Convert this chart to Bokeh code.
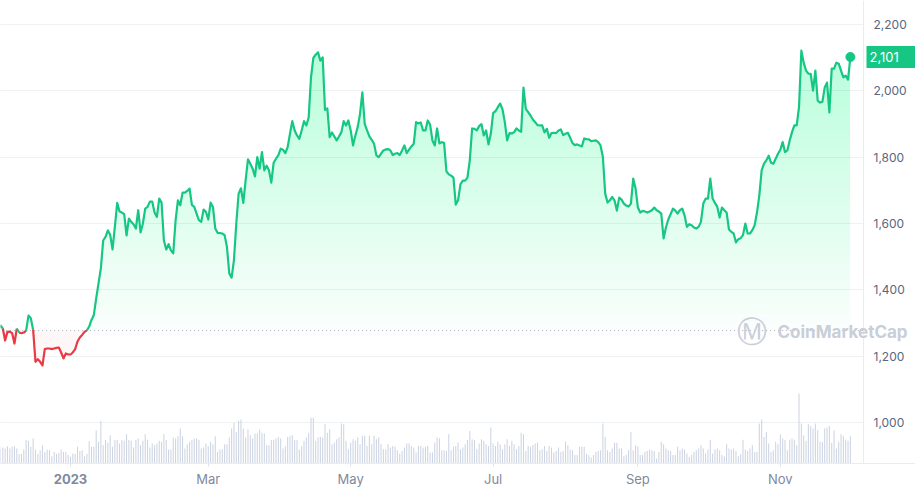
import numpy as np
import pandas as pd
from bokeh.plotting import figure
from bokeh.models import (Range1d, FixedTicker, NumeralTickFormatter, LinearAxis,
                          DatetimeAxis, Span, Label, Grid, BoxAnnotation)
from bokeh.embed import file_html
from bokeh.resources import INLINE

# ---------------- data ----------------
dates = pd.date_range("2022-12-01", "2023-12-01", freq="D")

price = [
    1278,
    1293, 1285, 1248, 1274, 1275, 1270, 1239, 1284, 1272, 1270,
    1272, 1278, 1323, 1315, 1280, 1184, 1192, 1184, 1173, 1222,
    1224, 1224, 1222, 1224, 1226, 1227, 1212, 1194, 1209, 1206,
    1206, 1212, 1222, 1245, 1257, 1265, 1274, 1278, 1290, 1310,
    1325, 1375, 1420, 1465, 1549, 1560, 1579, 1566, 1522, 1590,
    1662, 1636, 1633, 1628, 1564, 1615, 1605, 1598, 1585, 1640,
    1573, 1600, 1645, 1650, 1666, 1666, 1633, 1620, 1675, 1663,
    1549, 1522, 1538, 1519, 1510, 1609, 1670, 1655, 1693, 1693,
    1698, 1705, 1656, 1650, 1630, 1610, 1605, 1642, 1635, 1612,
    1663, 1650, 1585, 1572, 1571, 1570, 1565, 1530, 1450, 1437,
    1490, 1600, 1690, 1706, 1662, 1730, 1793, 1780, 1765, 1742,
    1800, 1765, 1815, 1760, 1774, 1760, 1723, 1783, 1795, 1805,
    1825, 1822, 1812, 1830, 1870, 1908, 1880, 1865, 1855, 1880,
    1908, 1895, 1919, 2040, 2098, 2108, 2115, 2090, 2100, 1942,
    1946, 1860, 1874, 1862, 1850, 1862, 1875, 1908, 1895, 1910,
    1880, 1835, 1865, 1890, 1930, 1995, 1900, 1880, 1862, 1852,
    1840, 1805, 1800, 1810, 1820, 1823, 1824, 1820, 1806, 1810,
    1812, 1806, 1820, 1835, 1812, 1822, 1832, 1840, 1905, 1901,
    1904, 1880, 1880, 1910, 1898, 1850, 1835, 1886, 1841, 1845,
    1842, 1757, 1748, 1744, 1738, 1657, 1670, 1718, 1729, 1729,
    1738, 1790, 1886, 1885, 1880, 1893, 1899, 1865, 1880, 1838,
    1870, 1932, 1938, 1950, 1961, 1944, 1905, 1850, 1872, 1871,
    1875, 1886, 1880, 1876, 2009, 1945, 1935, 1925, 1913, 1905,
    1896, 1895, 1895, 1874, 1885, 1858, 1872, 1873, 1872, 1880,
    1883, 1866, 1870, 1873, 1858, 1842, 1836, 1838, 1835, 1832,
    1856, 1854, 1853, 1848, 1849, 1850, 1845, 1835, 1800, 1690,
    1663, 1670, 1680, 1669, 1639, 1678, 1672, 1660, 1654, 1651,
    1660, 1735, 1705, 1648, 1633, 1638, 1636, 1633, 1636, 1640,
    1648, 1640, 1636, 1630, 1555, 1588, 1612, 1628, 1645, 1639,
    1630, 1640, 1645, 1624, 1590, 1598, 1595, 1588, 1585, 1590,
    1605, 1660, 1675, 1675, 1735, 1675, 1662, 1650, 1618, 1648,
    1640, 1633, 1582, 1575, 1570, 1543, 1553, 1556, 1565, 1600,
    1570, 1570, 1580, 1595, 1633, 1685, 1760, 1780, 1790, 1804,
    1783, 1780, 1795, 1810, 1822, 1845, 1815, 1820, 1850, 1875,
    1895, 1895, 1950, 2120, 2084, 2060, 2051, 2050, 2000, 2060,
    1970, 1964, 1966, 2009, 2024, 1934, 2066, 2066, 2084, 2081,
    2060, 2040, 2045, 2033, 2101,
]

# daily volume, billions USD
vol_dec_apr = [
    6.0,
    7.2, 6.6, 6.2, 7.2, 6.2, 6.9, 7.2, 6.2, 3.9, 3.9,
    5.8, 9.9, 9.4, 6.9, 10.4, 5.8, 3.9, 5.5, 7.6, 4.8,
    5.8, 5.5, 3.0, 4.8, 3.9, 4.4, 5.8, 4.8, 4.8, 3.5,
    2.8, 4.1, 3.9, 6.9, 5.2, 5.5, 3.0, 3.9, 9.2, 6.9,
    6.9, 13.8, 9.0, 17.7, 7.6, 9.7, 8.6, 11.7, 6.9, 9.7,
    9.9, 8.3, 9.7, 9.4, 12.1, 9.7, 9.4, 6.6, 9.9, 10.4,
    7.6, 9.4, 12.1, 9.9, 6.6, 8.3, 7.6, 8.3, 9.4, 9.0,
    12.1, 9.7, 5.8, 5.8, 10.8, 10.4, 11.3, 14.5, 11.3, 6.2,
    8.0, 9.0, 9.9, 10.4, 10.4, 9.9, 6.2, 6.6, 8.3, 7.2,
    9.0, 8.0, 11.3, 4.8, 5.8, 5.8, 8.0, 8.0, 10.8, 14.5,
    16.8, 13.1, 17.7, 18.2, 14.5, 10.8, 14.1, 11.7, 10.4, 12.4,
    12.4, 14.1, 12.7, 12.4, 7.6, 7.6, 9.7, 9.7, 10.4, 11.0,
    10.4, 6.2, 7.2, 11.0, 11.3, 11.7, 9.7, 9.7, 5.8, 7.2,
]
vol_apr_jun = [
    9.4, 10.8, 12.8, 19.0, 19.0, 9.4, 10.8, 11.0, 10.8, 16.3,
    12.8, 14.2, 8.0, 8.7, 10.1, 10.8, 16.6, 16.3, 9.4, 5.9,
    8.7, 10.1, 9.4, 10.8, 8.0, 11.5, 11.5, 7.3, 11.5, 8.0,
    11.5, 10.1, 10.8, 8.0, 5.9, 5.9, 8.0, 6.6, 7.3, 6.9,
    5.5, 4.1, 5.2, 6.6, 8.3, 8.3, 7.3, 6.6, 4.6, 7.3,
    7.3, 6.6, 6.9, 7.3, 4.6, 4.6, 8.7, 10.8, 10.5, 5.5,
    5.5, 5.2, 12.1, 5.5, 6.9, 7.3, 8.7,
]
vol_jun_jul = [
    5.9, 6.6, 8.0, 9.7, 13.5, 10.1, 9.7, 5.9, 8.3, 10.1,
    9.4, 8.0, 7.3, 14.9, 8.3, 7.3, 9.1, 8.0, 5.9, 8.0,
    10.1, 7.3, 9.4, 8.0, 5.9, 7.3, 12.8, 12.1, 5.2, 7.3,
    6.9, 7.7, 8.3, 8.7, 5.5, 5.9, 7.3, 5.2, 7.3, 6.6,
    4.6, 5.2, 6.6,
]
vol_aug_dec = [
    4.8, 5.2, 9.0, 7.6, 5.8, 5.5, 3.5, 3.5, 6.9, 6.9,
    6.9, 4.1, 3.5, 2.5, 3.5, 4.8, 5.2, 5.5, 16.6, 11.0,
    5.5, 4.8, 6.2, 8.6, 8.6, 6.2, 6.2, 3.0, 3.5, 5.5,
    13.1, 5.5, 7.6, 7.2, 3.5, 3.5, 4.8, 5.2, 5.8, 5.5,
    5.2, 2.1, 4.8, 9.0, 8.0, 6.2, 5.5, 5.2, 3.5, 3.5,
    6.9, 5.5, 6.2, 5.8, 4.1, 2.8, 3.5, 4.8, 5.5, 6.2,
    7.6, 6.2, 4.1, 5.8, 9.7, 4.1, 5.8, 6.2, 5.5, 3.5,
    3.0, 8.0, 6.2, 5.8, 6.2, 5.2, 3.0, 3.9, 9.9, 5.8,
    5.2, 6.2, 7.6, 4.8, 4.8, 16.6, 18.2, 11.0, 13.1, 8.3,
    4.8, 5.5, 9.0, 8.0, 12.1, 10.4, 9.7, 5.5, 9.9, 10.4,
    9.9, 7.6, 29.0, 16.6, 11.7, 9.4, 16.3, 15.5, 14.5, 16.6,
    13.8, 9.0, 9.0, 14.5, 14.9, 15.5, 8.6, 13.8, 6.2, 9.0,
    12.1, 11.3, 9.9, 9.4, 11.3,
]
volume = vol_dec_apr + vol_apr_jun + vol_jun_jul + vol_aug_dec

tick_dates = ["2023-01-01", "2023-03-01", "2023-05-01", "2023-07-01", "2023-09-01", "2023-11-01"]
tick_labels = ["2023", "Mar", "May", "Jul", "Sep", "Nov"]
year_label = "2023"
price_ticks = [1000, 1200, 1400, 1600, 1800, 2000, 2200]

# ---------------- styling ----------------
GREEN = "#16c784"
RED = "#ea3943"
GRID = "#eff2f5"
EDGE = "#e9ecf1"
AXIS_TXT = "#808a9d"
FONT = "Inter"


def ms(ts):
    return float(pd.Timestamp(ts).value // 10**6)


t = np.array([ms(d) for d in dates])
pr = np.array(price, dtype=float)
vol = np.array(volume, dtype=float)
n = min(len(t), len(pr), len(vol))
t, pr, vol = t[:n], pr[:n], vol[:n]
base = pr[0]
DAY = 86400000.0
plot_edge = ms("2023-12-06 14:40")   # right edge of the chart area (label column beyond)

p = figure(frame_width=915, frame_height=463,
           x_axis_type=None, y_axis_location=None,
           x_range=Range1d(ms("2022-12-02 00:30"), ms("2023-12-28 21:14")),
           y_range=Range1d(878, 2271),
           toolbar_location=None, output_backend="svg",
           min_border_left=0, min_border_top=0, min_border_right=0, min_border_bottom=27,
           background_fill_color="white", border_fill_color="white")
p.outline_line_color = None
p.extra_y_ranges = {"vol": Range1d(0, 192)}

# grid (stops at the chart edge: the label column is masked in white)
p.add_layout(Grid(dimension=1, ticker=FixedTicker(ticks=price_ticks),
                  grid_line_color=GRID, grid_line_width=1))
p.add_layout(BoxAnnotation(left=plot_edge, fill_color="white", fill_alpha=1.0,
                           line_color=None, level="underlay"))
p.add_layout(Span(location=plot_edge, dimension="height", line_color=EDGE,
                  line_width=1, level="underlay"))

# volume bars
p.vbar(x=t, top=vol, width=0.45 * DAY, y_range_name="vol",
       fill_color="#cdd4e2", line_color=None)

# red faint fill below baseline
p.varea(x=t, y1=np.minimum(pr, base), y2=np.full(n, base),
        fill_color=RED, fill_alpha=0.04)

# green gradient fill above baseline (stacked translucent layers)
p.varea(x=t, y1=np.full(n, base), y2=np.maximum(pr, base),
        fill_color=GREEN, fill_alpha=0.025)
for k in range(1, 36):
    L = base + 25 * k
    p.varea(x=t, y1=np.full(n, L), y2=np.maximum(pr, L),
            fill_color=GREEN, fill_alpha=0.0075)

# baseline (dotted), only across the chart area
p.segment(x0=[t[0]], y0=[base], x1=[plot_edge], y1=[base],
          line_color="#a6b0c3", line_width=1, line_dash="1 3")

# line split into green / red runs
up = [(pr[i] + pr[i + 1]) / 2 >= base for i in range(n - 1)]
gx, gy, rx, ry = [], [], [], []
start = 0
for i in range(1, n):
    if i == n - 1 or up[i] != up[start]:
        xs_run = list(t[start:i + 1])
        ys_run = list(pr[start:i + 1])
        if up[start]:
            gx.append(xs_run); gy.append(ys_run)
        else:
            rx.append(xs_run); ry.append(ys_run)
        start = i
p.multi_line(xs=rx, ys=ry, line_color=RED, line_width=2.2, line_join="round")
p.multi_line(xs=gx, ys=gy, line_color=GREEN, line_width=2.2, line_join="round")

# last point
p.scatter(x=[t[-1]], y=[pr[-1]], size=9, fill_color=GREEN, line_color=GREEN)

# x axes: the first carries the ticks and the bold year, the second the month names
tick_ms = [ms(d) for d in tick_dates]
year_over = {tm: (lab if lab == year_label else "") for tm, lab in zip(tick_ms, tick_labels)}
month_over = {tm: ("" if lab == year_label else lab) for tm, lab in zip(tick_ms, tick_labels)}
xaxis_year = DatetimeAxis(ticker=FixedTicker(ticks=tick_ms), major_label_overrides=year_over,
                          axis_line_color=EDGE, major_tick_line_color="#dfe3ea",
                          major_tick_in=0, major_tick_out=3, minor_tick_line_color=None,
                          major_label_standoff=7, major_label_text_color=AXIS_TXT,
                          major_label_text_font=FONT, major_label_text_font_style="bold",
                          major_label_text_font_size="13px")
p.add_layout(xaxis_year, "below")
xaxis_month = DatetimeAxis(ticker=FixedTicker(ticks=tick_ms), major_label_overrides=month_over,
                           axis_line_color=None, major_tick_line_color=None,
                           major_tick_in=0, major_tick_out=0, minor_tick_line_color=None,
                           major_label_standoff=-16, major_label_text_color=AXIS_TXT,
                           major_label_text_font=FONT, major_label_text_font_size="13px")
p.add_layout(xaxis_month, "below")

# y axis: labels drawn back into the label column on the right
yaxis = LinearAxis(ticker=FixedTicker(ticks=price_ticks),
                   formatter=NumeralTickFormatter(format="0,0"),
                   axis_line_color=None, major_tick_line_color=None,
                   major_tick_in=0, major_tick_out=0,
                   minor_tick_line_color=None, major_label_standoff=-42,
                   major_label_text_color="#58667e", major_label_text_font=FONT,
                   major_label_text_font_size="12px")
p.add_layout(yaxis, "right")

# current price tag
p.add_layout(Label(x=866, x_units="screen", y=pr[-1], text=f"  {int(pr[-1]):,}  ",
                   text_align="left", text_baseline="middle", text_color="white",
                   text_font=FONT, text_font_size="13px",
                   background_fill_color=GREEN, padding=3))

# watermark
p.add_layout(Label(x=751, y=132, x_units="screen", y_units="screen", text="Ⓜ",
                   text_align="center", text_baseline="middle", text_color="#c9ced8",
                   text_font="DejaVu Sans", text_font_size="30px"))
p.add_layout(Label(x=777, y=132, x_units="screen", y_units="screen", text="CoinMarketCap",
                   text_align="left", text_baseline="middle", text_color="#c9ced8",
                   text_font=FONT, text_font_style="bold", text_font_size="17px"))

open("out.html", "w").write(file_html(p, INLINE))
